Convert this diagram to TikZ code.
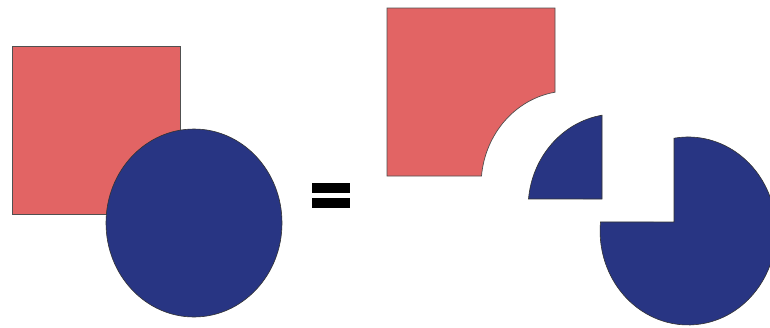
\documentclass[tikz,border=0pt]{standalone}
\definecolor{shapered}{RGB}{226,100,100}
\definecolor{shapeblue}{RGB}{40,53,131}
\definecolor{edgegray}{RGB}{80,80,80}
\tikzset{
  redshape/.style={fill=shapered, draw=edgegray, line width=0.7pt},
  blueshape/.style={fill=shapeblue, draw=black!80, line width=0.6pt},
  eqbar/.style={fill=black, draw=none},
  ell/.style={x radius=88pt, y radius=94pt}
}
\begin{document}
\begin{tikzpicture}[x=1pt,y=1pt,yscale=-1]
\useasboundingbox (0,0) rectangle (770,327);
\clip (0,0) rectangle (770,327);
% left: square and circle
\path[redshape] (12,46) rectangle (180,214);
\path[blueshape] (194,223) ellipse [x radius=88pt, y radius=94pt];
% equals sign
\path[eqbar] (312,183) rectangle (350,193);
\path[eqbar] (312,198) rectangle (350,208);
% right: square minus circle
\path[redshape] (387,8) -- (555,8) -- (555,92.2)
  arc[start angle=260.8, end angle=185.5, ell] -- (481.4,176) -- (387,176) -- cycle;
% intersection piece
\path[blueshape] (602,199) -- (602,115.2)
  arc[start angle=260.8, end angle=185.5, ell] -- cycle;
% circle minus square
\path[blueshape] (674,138.2)
  arc[start angle=260.8, end angle=545.5, ell] -- (674,222) -- cycle;
\end{tikzpicture}
\end{document}
